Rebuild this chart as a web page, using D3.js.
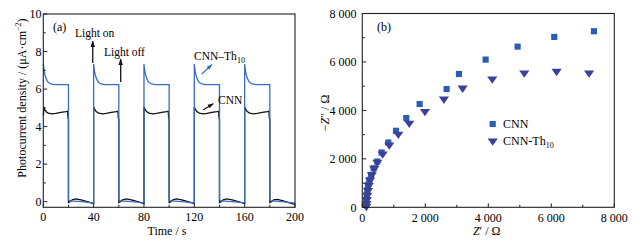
<!DOCTYPE html>
<html>
<head>
<meta charset="utf-8">
<script src="https://cdn.jsdelivr.net/npm/d3@7"></script>
<style>
  body { margin: 0; background: #fff; }
  svg { display: block; font-family: "Liberation Serif", "DejaVu Serif", serif; }
</style>
</head>
<body>
<div id="chart"></div>
<script>
// ---- panel (a): photocurrent vs time, [t, value] pairs
const thPhoto = [
  [0, 7.35], [0.5, 7.05], [1, 6.85], [2, 6.6], [3, 6.45], [4, 6.35], [6, 6.27], [9, 6.24], [20, 6.24],
  [20, 0.1], [21, 0.04], [30, 0.0], [40, -0.07],
  [40, 7.33], [40.5, 7.03], [41, 6.84], [42, 6.6], [43, 6.45], [44, 6.35], [46, 6.27], [49, 6.24], [60, 6.24],
  [60, 0.1], [61, 0.04], [70, 0.0], [80, -0.06],
  [80, 7.33], [80.5, 7.03], [81, 6.84], [82, 6.6], [83, 6.45], [84, 6.35], [86, 6.27], [89, 6.24], [100, 6.24],
  [100, 0.1], [101, 0.04], [110, 0.0], [120, -0.07],
  [120, 7.33], [120.5, 7.03], [121, 6.84], [122, 6.6], [123, 6.45], [124, 6.35], [126, 6.27], [129, 6.24], [140, 6.24],
  [140, 0.1], [141, 0.04], [150, 0.0], [160, -0.06],
  [160, 7.33], [160.5, 7.03], [161, 6.84], [162, 6.6], [163, 6.45], [164, 6.35], [166, 6.27], [169, 6.24], [180, 6.24],
  [180, 0.1], [181, 0.04], [190, 0.0], [200, -0.08],
];
const cnnPhoto = [
  [0, 4.6], [0.6, 5.0], [1.5, 4.88], [2.5, 4.78], [4, 4.72], [7, 4.68], [10, 4.7], [14, 4.76], [18, 4.8], [19.3, 4.82], [19.6, 4.45], [20, 4.4],
  [20, -0.05], [21, -0.02], [23, 0.1], [26, 0.15], [30, 0.1], [35, 0.0], [40, -0.1],
  [40, 5.05], [41, 4.9], [42, 4.8], [44, 4.72], [47, 4.68], [50, 4.7], [54, 4.76], [58, 4.8], [59.3, 4.82], [59.6, 4.45], [60, 4.4],
  [60, -0.05], [61, -0.02], [63, 0.1], [66, 0.15], [70, 0.1], [75, 0.0], [80, -0.1],
  [80, 5.05], [81, 4.9], [82, 4.8], [84, 4.72], [87, 4.68], [90, 4.7], [94, 4.76], [98, 4.8], [99.3, 4.82], [99.6, 4.45], [100, 4.4],
  [100, -0.05], [101, -0.02], [103, 0.1], [106, 0.15], [110, 0.1], [115, 0.0], [120, -0.1],
  [120, 5.05], [121, 4.9], [122, 4.8], [124, 4.72], [127, 4.68], [130, 4.7], [134, 4.76], [138, 4.8], [139.3, 4.82], [139.6, 4.45], [140, 4.4],
  [140, -0.05], [141, -0.02], [143, 0.1], [146, 0.15], [150, 0.1], [155, 0.0], [160, -0.1],
  [160, 5.05], [161, 4.9], [162, 4.8], [164, 4.72], [167, 4.68], [170, 4.7], [174, 4.76], [178, 4.8], [179.3, 4.82], [179.6, 4.45], [180, 4.4],
  [180, -0.05], [181, -0.02], [183, 0.1], [186, 0.12], [190, 0.05], [195, -0.05], [200, -0.15],
];
const timeTicks = [0, 40, 80, 120, 160, 200];
const timeMinor = [20, 60, 100, 140, 180];
const photoTicks = [0, 2, 4, 6, 8, 10];
const photoMinor = [1, 3, 5, 7, 9];

// ---- panel (b): Nyquist plot, [Z', -Z''] in ohm
const cnnEis = [
  [7354, 7268], [6094, 7034], [4930, 6634], [3915, 6097], [3068, 5503], [2677, 4882],
  [1820, 4262], [1397, 3683], [1069, 3159], [825, 2676], [614, 2262], [476, 1890],
  [360, 1614], [280, 1338], [225, 1131], [185, 924], [160, 717], [140, 510], [128, 303], [120, 138],
];
const thEis = [
  [7200, 5545], [6168, 5614], [5142, 5545], [4126, 5296], [3185, 4924], [2592, 4469],
  [1989, 3959], [1492, 3476], [1143, 3021], [857, 2579], [645, 2207], [476, 1862],
  [380, 1600], [300, 1350], [245, 1120], [205, 900], [178, 700], [158, 500], [145, 320], [135, 160], [128, 40],
];
const zTicks = [0, 2000, 4000, 6000, 8000];
const zMinor = [1000, 3000, 5000, 7000];
const zTickLabels = ["0", "2 000", "4 000", "6 000", "8 000"];

const blueLine = "#3a6cc4";
const squareColor = "#2b5db3";
const triColor = "#3c4099";

const width = 640;
const height = 246;
const fontSize = 12;

const svg = d3.select("#chart").append("svg").attr("width", width).attr("height", height);

// inward ticks + frame
function frame(g, x, y, xMajor, xMinor, yMajor, yMinor) {
  const [x0, x1] = x.range();
  const [y0, y1] = y.range();
  g.append("rect")
    .attr("x", x0).attr("y", y1)
    .attr("width", x1 - x0).attr("height", y0 - y1)
    .attr("fill", "none").attr("stroke", "#222").attr("stroke-width", 1.1);
  const t = g.append("g").attr("stroke", "#222").attr("stroke-width", 1);
  t.selectAll(".xmaj").data(xMajor).join("line")
    .attr("x1", (d) => x(d)).attr("x2", (d) => x(d)).attr("y1", y0).attr("y2", y0 - 4);
  t.selectAll(".xmin").data(xMinor).join("line").attr("class", "xmin")
    .attr("x1", (d) => x(d)).attr("x2", (d) => x(d)).attr("y1", y0).attr("y2", y0 - 2.5);
  t.selectAll(".ymaj").data(yMajor).join("line").attr("class", "ymaj")
    .attr("y1", (d) => y(d)).attr("y2", (d) => y(d)).attr("x1", x0).attr("x2", x0 + 4);
  t.selectAll(".ymin").data(yMinor).join("line").attr("class", "ymin")
    .attr("y1", (d) => y(d)).attr("y2", (d) => y(d)).attr("x1", x0).attr("x2", x0 + 2.5);
}

// ================= panel (a)
const xa = d3.scaleLinear().domain([0, 200]).range([43.3, 295]);
const ya = d3.scaleLinear().domain([-0.3, 10]).range([207.3, 14]);
const ga = svg.append("g");

const defs = svg.append("defs");
[["headBlack", "#111"], ["headBlue", blueLine]].forEach(([id, c]) => {
  defs.append("marker")
    .attr("id", id).attr("viewBox", "0 0 10 10")
    .attr("refX", 9).attr("refY", 5)
    .attr("markerWidth", 5).attr("markerHeight", 5)
    .attr("orient", "auto")
    .append("path").attr("d", "M0,1.5L10,5L0,8.5Z").attr("fill", c);
});

const linePhoto = d3.line().x((d) => xa(d[0])).y((d) => ya(d[1]));

ga.append("path").datum(cnnPhoto)
  .attr("fill", "none").attr("stroke", "#111").attr("stroke-width", 1.3)
  .attr("d", linePhoto);
ga.append("path").datum(thPhoto)
  .attr("fill", "none").attr("stroke", blueLine).attr("stroke-width", 1.3)
  .attr("d", linePhoto);

frame(ga, xa, ya, timeTicks, timeMinor, photoTicks, photoMinor);

ga.append("g").selectAll("text").data(photoTicks).join("text")
  .attr("x", 41.5).attr("y", (d) => ya(d)).attr("dy", "0.35em")
  .attr("text-anchor", "end").attr("font-size", fontSize).text((d) => d);
ga.append("g").selectAll("text").data(timeTicks).join("text")
  .attr("x", (d) => xa(d)).attr("y", 217).attr("dy", "0.35em")
  .attr("text-anchor", "middle").attr("font-size", fontSize).text((d) => d);

ga.append("text").attr("x", 167).attr("y", 231).attr("dy", "0.35em")
  .attr("text-anchor", "middle").attr("font-size", fontSize).text("Time / s");

const yTitleA = ga.append("text")
  .attr("transform", "translate(22,98) rotate(-90)")
  .attr("text-anchor", "middle").attr("dy", "0.35em").attr("font-size", fontSize);
yTitleA.append("tspan").text("Photocurrent density / (μA·cm");
yTitleA.append("tspan").attr("font-size", 8).attr("dy", "-0.7em").text("−2");
yTitleA.append("tspan").attr("dy", "0.45em").text(")");

ga.append("text").attr("x", 53).attr("y", 27).attr("dy", "0.35em")
  .attr("font-size", fontSize).text("(a)");

// annotations
ga.append("text").attr("x", xa(25.2)).attr("y", ya(8.98)).attr("dy", "0.35em")
  .attr("font-size", 11.5).text("Light on");
ga.append("line").attr("x1", xa(39.3)).attr("x2", xa(39.3)).attr("y1", ya(7.39)).attr("y2", ya(8.55))
  .attr("stroke", "#111").attr("stroke-width", 1.3).attr("marker-end", "url(#headBlack)");
ga.append("text").attr("x", xa(48.2)).attr("y", ya(7.95)).attr("dy", "0.35em")
  .attr("font-size", 11.5).text("Light off");
ga.append("line").attr("x1", xa(61.5)).attr("x2", xa(61.5)).attr("y1", ya(6.38)).attr("y2", ya(7.6))
  .attr("stroke", "#111").attr("stroke-width", 1.3).attr("marker-end", "url(#headBlack)");

const thLabel = ga.append("text").attr("x", xa(119.8)).attr("y", ya(7.76)).attr("dy", "0.35em")
  .attr("font-size", 11.5);
thLabel.append("tspan").text("CNN–Th");
thLabel.append("tspan").attr("font-size", 8).attr("dy", "0.35em").text("10");
ga.append("line").attr("x1", xa(125.9)).attr("y1", ya(6.8)).attr("x2", xa(134)).attr("y2", ya(7.3))
  .attr("stroke", blueLine).attr("stroke-width", 1.2).attr("marker-end", "url(#headBlue)");

ga.append("text").attr("x", xa(138.8)).attr("y", ya(5.42)).attr("dy", "0.35em")
  .attr("font-size", 11.5).text("CNN");
ga.append("line").attr("x1", xa(126.9)).attr("y1", ya(4.89)).attr("x2", xa(135)).attr("y2", ya(5.22))
  .attr("stroke", "#111").attr("stroke-width", 1.2).attr("marker-end", "url(#headBlack)");

// ================= panel (b)
const xb = d3.scaleLinear().domain([0, 8000]).range([362.3, 614.3]);
const yb = d3.scaleLinear().domain([0, 8000]).range([207.3, 13.5]);
const gb = svg.append("g");

const square = d3.symbol().type(d3.symbolSquare).size(38);
const tri = d3.symbol().type(d3.symbolTriangle).size(34);

gb.append("g").selectAll("path").data(cnnEis).join("path")
  .attr("transform", (d) => `translate(${xb(d[0])},${yb(d[1])})`)
  .attr("d", square).attr("fill", squareColor);
gb.append("g").selectAll("path").data(thEis).join("path")
  .attr("transform", (d) => `translate(${xb(d[0])},${yb(d[1])}) rotate(180) scale(1.15,0.95)`)
  .attr("d", tri).attr("fill", triColor);

frame(gb, xb, yb, zTicks, zMinor, zTicks, zMinor);

gb.append("g").selectAll("text").data(zTicks).join("text")
  .attr("x", 356.5).attr("y", (d) => yb(d)).attr("dy", "0.35em")
  .attr("text-anchor", "end").attr("font-size", fontSize).text((d, i) => zTickLabels[i]);
gb.append("g").selectAll("text").data(zTicks).join("text")
  .attr("x", (d) => xb(d)).attr("y", 218).attr("dy", "0.35em")
  .attr("text-anchor", "middle").attr("font-size", fontSize).text((d, i) => zTickLabels[i]);

const xTitleB = gb.append("text").attr("x", 486.7).attr("y", 231).attr("dy", "0.35em")
  .attr("text-anchor", "middle").attr("font-size", fontSize);
xTitleB.append("tspan").attr("font-style", "italic").text("Z");
xTitleB.append("tspan").text("′ / Ω");

const yTitleB = gb.append("text")
  .attr("transform", "translate(325,113) rotate(-90)")
  .attr("text-anchor", "middle").attr("dy", "0.35em").attr("font-size", fontSize);
yTitleB.append("tspan").text("−");
yTitleB.append("tspan").attr("font-style", "italic").text("Z");
yTitleB.append("tspan").text("″ / Ω");

gb.append("text").attr("x", 377).attr("y", 27).attr("dy", "0.35em")
  .attr("font-size", fontSize).text("(b)");

// legend
gb.append("path").attr("transform", "translate(492.7,124)").attr("d", square).attr("fill", squareColor);
gb.append("text").attr("x", 503).attr("y", 124).attr("dy", "0.35em")
  .attr("font-size", fontSize).text("CNN");
gb.append("path").attr("transform", "translate(492.7,141) rotate(180) scale(1.15,0.95)").attr("d", tri).attr("fill", triColor);
const legTh = gb.append("text").attr("x", 503).attr("y", 141).attr("dy", "0.35em")
  .attr("font-size", fontSize);
legTh.append("tspan").text("CNN-Th");
legTh.append("tspan").attr("font-size", 8).attr("dy", "0.35em").text("10");
</script>
</body>
</html>
